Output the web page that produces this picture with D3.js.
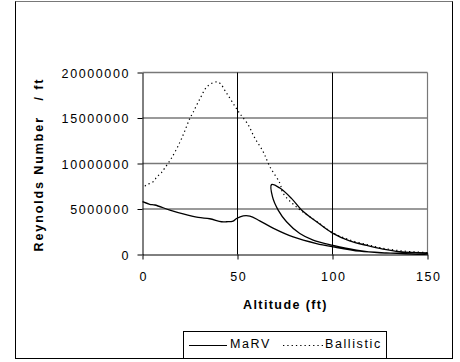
<!DOCTYPE html>
<html>
<head>
<meta charset="utf-8">
<script src="https://cdn.jsdelivr.net/npm/d3@7"></script>
<style>
  html, body { margin: 0; padding: 0; background: #fff; }
  text { font-family: "Liberation Sans", Arial, sans-serif; }
</style>
</head>
<body>
<svg id="chart" width="460" height="362"></svg>
<script>
// ---- Data (altitude in ft, Reynolds number per ft) ----
const altTicks = [0, 50, 100, 150];
const reTicks = [0, 5000000, 10000000, 15000000, 20000000];

// MaRV: descent along upper branch, sharp turn, middle branch, then lower branch to 0
const marvAltitude = [150, 135.4, 126.6, 118, 109, 100, 91.6, 83.7, 78.4, 72.3, 67.9,
  68.4, 71.4, 75.8, 82.8, 89.8, 100.3, 112.6, 125, 150,
  150, 128.4, 114.4, 100.3, 91.6, 79.3, 68.7, 61.7, 56.5, 53, 49.5, 47.7, 44.2, 41.6, 35.4, 29.3, 21.4, 14.4, 6.5, 3.8, 0];
const marvReynolds = [180000, 320000, 600000, 1000000, 1500000, 2350000, 3600000, 4900000, 6170000, 7300000, 7680000,
  6350000, 4880000, 3600000, 2300000, 1580000, 1000000, 480000, 180000, 100000,
  50000, 180000, 360000, 840000, 1200000, 1930000, 2900000, 3700000, 4220000, 4240000, 3950000, 3670000, 3600000, 3600000, 3930000, 4080000, 4460000, 4880000, 5440000, 5520000, 5800000];

const ballisticAltitude = [150, 135.4, 125, 118, 109, 100, 91.6, 81.9, 74, 72.3, 67, 63.5, 59.1, 55.6, 51.2, 48.6, 44.2, 39.8, 34.5, 30.2, 26.6, 24.9, 22.3, 19.6, 15.3, 11.7, 10, 7.7, 5.6, 2.1, 0];
const ballisticReynolds = [200000, 420000, 750000, 1100000, 1600000, 2400000, 3650000, 5070000, 6730000, 7830000, 9660000, 11300000, 12800000, 14260000, 15500000, 16300000, 17750000, 18950000, 18550000, 17100000, 15600000, 14950000, 13600000, 12300000, 10600000, 9500000, 9000000, 8560000, 8000000, 7640000, 7300000];

const legendLabels = ["MaRV", "Ballistic"];

// ---- Layout ----
const svg = d3.select("#chart");
const x = d3.scaleLinear().domain([0, 150]).range([142.5, 427.5]);
const y = d3.scaleLinear().domain([0, 20000000]).range([254.5, 72.5]);
const grey = "rgb(120,120,120)";

// Outer frame
svg.append("rect").attr("x", 15.5).attr("y", 1.5).attr("width", 437).attr("height", 357)
  .attr("fill", "none").attr("stroke", "#000").attr("stroke-width", 1);
svg.append("path").attr("d", "M15.5,1.5H452.5")
  .attr("stroke", grey).attr("stroke-width", 1.2).attr("fill", "none");

// Horizontal gridlines (gray)
const hGrid = svg.append("g").attr("stroke", grey).attr("stroke-width", 1.6).attr("fill", "none");
reTicks.filter(d => d > 0).forEach(d => {
  hGrid.append("path").attr("d", `M${x(0)},${y(d)}H${x(150)}`);
});

// Vertical gridlines (black)
const vGrid = svg.append("g").attr("stroke", "#000").attr("stroke-width", 1).attr("fill", "none");
altTicks.filter(d => d > 0 && d < 150).forEach(d => {
  vGrid.append("path").attr("d", `M${x(d)},${y(0)}V${y(20000000)}`);
});

// Right border (gray)
svg.append("path").attr("d", `M${x(150)},${y(0)}V${y(20000000)}`)
  .attr("stroke", grey).attr("stroke-width", 1.2).attr("fill", "none");

// Axes
const fs = "12.5px";
const yAxis = svg.append("g").attr("transform", `translate(${x(0)},0)`)
  .call(d3.axisLeft(y).tickValues(reTicks).tickFormat(d3.format("d")).tickSize(5).tickSizeOuter(0).tickPadding(7.5));
yAxis.select(".domain").attr("stroke", "#000");
yAxis.selectAll("text").attr("font-size", fs).attr("letter-spacing", "1.6px").attr("fill", "#000")
  .attr("font-family", "'Liberation Sans', Arial, sans-serif").attr("dy", "0.36em");

const xAxis = svg.append("g").attr("transform", `translate(0,${y(0)})`)
  .call(d3.axisBottom(x).tickValues(altTicks).tickFormat(d3.format("d")).tickSize(5).tickSizeOuter(0).tickPadding(13));
xAxis.select(".domain").attr("stroke", "#000");
xAxis.selectAll("text").attr("font-size", fs).attr("letter-spacing", "1.6px").attr("fill", "#000")
  .attr("font-family", "'Liberation Sans', Arial, sans-serif").attr("dx", "0.8px");

// Axis titles
svg.append("text").attr("x", 285.5).attr("y", 308.5).attr("text-anchor", "middle")
  .attr("font-size", fs).attr("font-weight", "bold").attr("letter-spacing", "1.4px")
  .text("Altitude (ft)");

svg.append("text").attr("transform", "translate(43,251.5) rotate(-90)")
  .attr("text-anchor", "start").attr("font-size", fs).attr("font-weight", "bold").attr("letter-spacing", "1.9px")
  .text("Reynolds Number");
svg.append("text").attr("transform", "translate(43,100.5) rotate(-90)")
  .attr("text-anchor", "start").attr("font-size", fs).attr("font-weight", "bold").attr("letter-spacing", "1.9px")
  .text("/ ft");

// Lines
const line = d3.line().x(d => x(d[0])).y(d => y(d[1])).curve(d3.curveCatmullRom.alpha(0.5));
const marvData = marvAltitude.map((a, i) => [a, marvReynolds[i]]);
const ballisticData = ballisticAltitude.map((a, i) => [a, ballisticReynolds[i]]);

svg.append("path").datum(marvData).attr("d", line)
  .attr("fill", "none").attr("stroke", "#000").attr("stroke-width", 1.3).attr("stroke-linejoin", "round");
svg.append("path").datum(ballisticData).attr("d", line)
  .attr("fill", "none").attr("stroke", "#000").attr("stroke-width", 1.2)
  .attr("stroke-dasharray", "1.3,3");

// Legend
svg.append("rect").attr("x", 183.5).attr("y", 331.5).attr("width", 203).attr("height", 27)
  .attr("fill", "#fff").attr("stroke", "#000").attr("stroke-width", 1);
const lg = svg.append("g");
lg.append("line").attr("x1", 189).attr("x2", 227).attr("y1", 345.5).attr("y2", 345.5)
  .attr("stroke", "#000").attr("stroke-width", 1.2);
lg.append("text").attr("x", 230).attr("y", 347.5).attr("font-size", fs).attr("letter-spacing", "1.6px")
  .text(legendLabels[0]);
lg.append("line").attr("x1", 283).attr("x2", 323).attr("y1", 345.5).attr("y2", 345.5)
  .attr("stroke", "#000").attr("stroke-width", 1.2).attr("stroke-dasharray", "1.3,3");
lg.append("text").attr("x", 325).attr("y", 347.5).attr("font-size", fs).attr("letter-spacing", "1.6px")
  .text(legendLabels[1]);
</script>
</body>
</html>
